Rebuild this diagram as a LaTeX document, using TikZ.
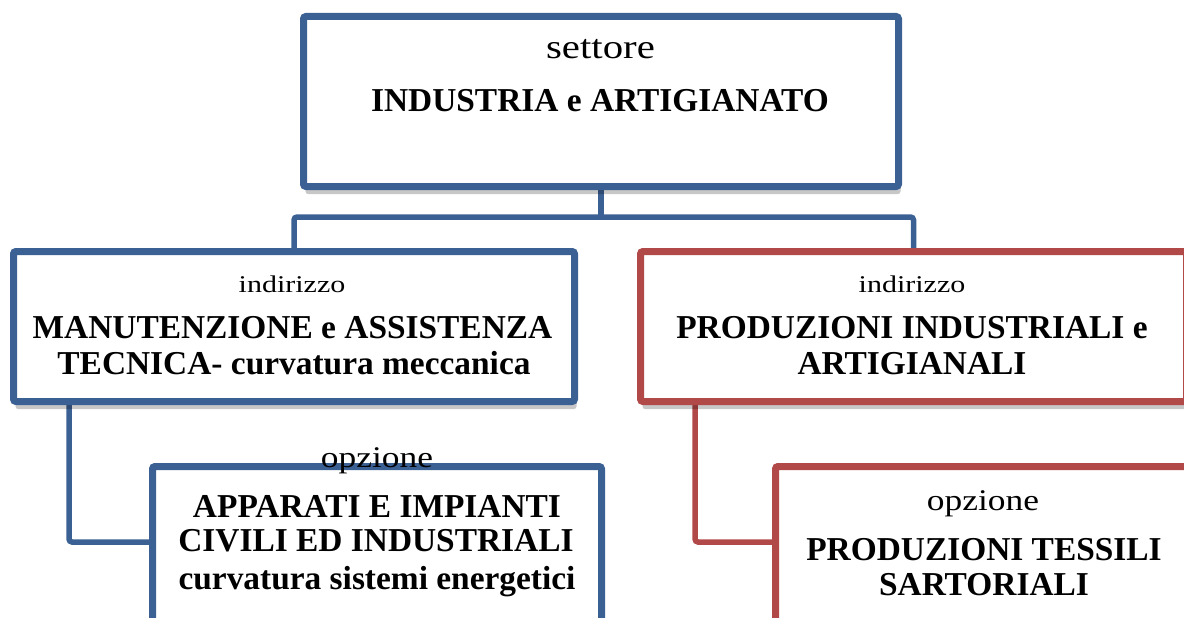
\documentclass[tikz,border=0pt]{standalone}
\usepackage{fontspec}
\setmainfont{Liberation Serif}
\usetikzlibrary{shadows,backgrounds}
\definecolor{bblue}{RGB}{59,96,148}
\definecolor{bred}{RGB}{176,73,71}
\tikzset{
  box/.style={draw=#1, line width=7pt, fill=white, rounded corners=2.5pt,
    inner sep=0pt, outer sep=0pt,
    drop shadow={opacity=0.22, fill=black, shadow xshift=2pt, shadow yshift=-7.5pt}},
  conn/.style={draw=#1, line width=5.5pt, rounded corners=3pt},
  bt/.style={anchor=base, inner sep=0pt, font=\fontsize{33.4}{36}\selectfont\bfseries},
  lt/.style={anchor=base, inner sep=0pt},
}
\newcommand{\lab}[3]{\scalebox{#2}[1]{\fontsize{#1}{#1}\selectfont #3}}
\begin{document}
\begin{tikzpicture}[x=1pt,y=-1pt]
\useasboundingbox (0,0) rectangle (1184,618);
\path
  (601,101.5) node[box=bblue, minimum width=595pt, minimum height=170pt] (top) {}
  (294,326.5) node[box=bblue, minimum width=561pt, minimum height=150pt] (left) {}
  (913.5,326.5) node[box=bred, minimum width=546pt, minimum height=150pt] (right) {}
  (377,558) node[box=bblue, minimum width=449pt, minimum height=183pt] (opt1) {}
  (986,558) node[box=bred, minimum width=421pt, minimum height=183pt] (opt2) {};
\coordinate (j) at (601,217);
\coordinate (lb) at (69,542);
\coordinate (rb) at (695,542);
\begin{scope}[on background layer]
  \draw[conn=bblue] (top.south) -- (j);
  \draw[conn=bblue] (j) -| (left.north);
  \draw[conn=bblue] (j) -| (right.north);
  \draw[conn=bblue] (left.south -| lb) |- (opt1.west |- lb);
  \draw[conn=bred] (right.south -| rb) |- (opt2.west |- rb);
\end{scope}
% texts
\node[lt] (t1) at (600.5,59) {\lab{34}{1.2}{settore}};
\node[bt] (t2) at (600,111) {INDUSTRIA e ARTIGIANATO};
\node[lt] (l1) at (292,292) {\lab{24}{1.25}{indirizzo}};
\node[bt] (l2) at (292.5,338) {MANUTENZIONE e ASSISTENZA};
\node[bt] (l3) at (294,374) {TECNICA- curvatura meccanica};
\node[lt] (r1) at (912,292) {\lab{24}{1.25}{indirizzo}};
\node[bt] (r2) at (912,338) {PRODUZIONI INDUSTRIALI e};
\node[bt] (r3) at (912,374) {ARTIGIANALI};
\node[lt] (o1) at (377,467) {\lab{30}{1.18}{opzione}};
\node[bt] (o2) at (377,517) {APPARATI E IMPIANTI};
\node[bt] (o3) at (376,551) {CIVILI ED INDUSTRIALI};
\node[bt] (o4) at (377,589) {curvatura sistemi energetici};
\node[lt] (p1) at (983,510) {\lab{30}{1.18}{opzione}};
\node[bt] (p2) at (984,560) {PRODUZIONI TESSILI};
\node[bt] (p3) at (984,595) {SARTORIALI};
\end{tikzpicture}
\end{document}
